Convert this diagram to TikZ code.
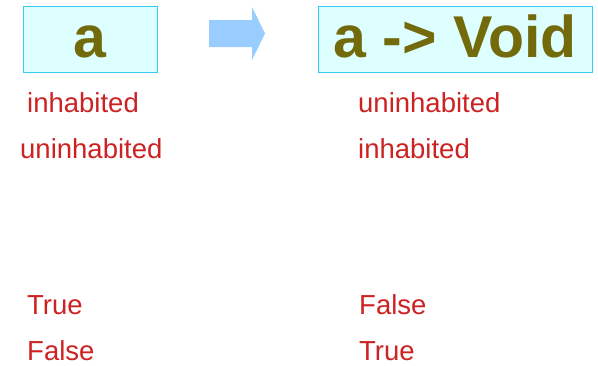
\documentclass[tikz,border=0pt]{standalone}
\usepackage{fontspec}
\setmainfont{Liberation Sans}

\definecolor{boxfill}{RGB}{221,255,255}
\definecolor{boxline}{RGB}{51,204,238}
\definecolor{typecol}{RGB}{115,107,11}
\definecolor{valcol}{RGB}{204,34,34}
\definecolor{arrowcol}{RGB}{153,204,255}

\begin{document}
\begin{tikzpicture}[
    x=1pt, y=-1pt,
    typebox/.style={draw=boxline, fill=boxfill, line width=1pt, inner sep=0pt,
                    minimum height=66pt, text height=40pt, text depth=4pt,
                    text=typecol, font=\fontsize{59}{59}\selectfont\bfseries},
    val/.style={anchor=base west, inner sep=0pt, text=valcol,
                font=\fontsize{27.5}{28}\selectfont},
]
\useasboundingbox (0,0) rectangle (598,365);

% Types
\node[typebox, minimum width=134pt] (tya) at (90,39) {a};
\node[typebox, minimum width=274pt] (tyvoid) at (455,39) {a -> Void};

% Block arrow between the two types
\fill[arrowcol] (209,20) -- (252,20) -- (252,7) -- (265,33.5)
    -- (252,60) -- (252,47) -- (209,47) -- cycle;

% Inhabitation of a and of a -> Void
\node[val] (ainh) at (27,112) {inhabited};
\node[val] (aunin) at (20,158) {uninhabited};
\node[val] (vunin) at (358,112) {uninhabited};
\node[val] (vinh) at (358,158) {inhabited};

% Truth values
\node[val] (atrue) at (27,314) {True};
\node[val] (afalse) at (27,360) {False};
\node[val] (vfalse) at (359,314) {False};
\node[val] (vtrue) at (359,360) {True};
\end{tikzpicture}
\end{document}
